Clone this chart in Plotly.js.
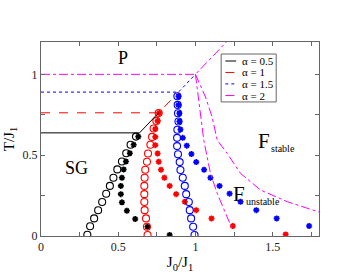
<!DOCTYPE html>
<html>
<head>
<meta charset="utf-8">
<script src="https://cdn.plot.ly/plotly-3.0.1.min.js"></script>
<style>html,body{margin:0;padding:0;background:#fff}#chart{width:359px;height:278px}</style>
</head>
<body>
<div id="chart"></div>
<script>
// Transition lines (J0/J1, T/J1)
var lineA05_x = [0, 0.638, 0.762];
var lineA05_y = [0.638, 0.638, 0.762];
var lineA1_x = [0, 0.762, 0.89];
var lineA1_y = [0.762, 0.762, 0.89];
var lineA15_x = [0, 0.89, 1.0];
var lineA15_y = [0.89, 0.89, 1.0];
var lineA2_x = [0, 1.0, 1.25];
var lineA2_y = [1.0, 1.0, 1.25];

// Magenta dash-dot curves (alpha = 2)
var curve1_x = [1.0, 1.032, 1.054, 1.097, 1.141, 1.195, 1.242];
var curve1_y = [1.0, 0.757, 0.593, 0.387, 0.264, 0.14, 0.037];
var curve2_x = [1.0, 1.065, 1.108, 1.141, 1.206, 1.292, 1.422, 1.595, 1.8];
var curve2_y = [1.0, 0.86, 0.736, 0.593, 0.51, 0.387, 0.284, 0.212, 0.148];

// alpha = 0.5 (black)
var circA05_x = [0.30, 0.318, 0.344, 0.37, 0.396, 0.422, 0.446, 0.469, 0.494, 0.524, 0.552, 0.58, 0.615];
var circA05_y = [0.008, 0.06, 0.109, 0.159, 0.21, 0.261, 0.31, 0.36, 0.412, 0.461, 0.512, 0.564, 0.615];
var starA05_x = [0.63, 0.6, 0.575, 0.55, 0.535, 0.524, 0.517, 0.517, 0.524, 0.556, 0.61, 0.69, 0.833];
var starA05_y = [0.615, 0.564, 0.512, 0.461, 0.412, 0.36, 0.31, 0.259, 0.208, 0.156, 0.105, 0.057, 0.006];

// alpha = 1 (red)
var circA1_x = [0.762, 0.747, 0.729, 0.719, 0.708, 0.693, 0.686, 0.675, 0.671, 0.669, 0.669, 0.669, 0.671, 0.68, 0.686, 0.69];
var circA1_y = [0.761, 0.712, 0.665, 0.613, 0.564, 0.51, 0.459, 0.41, 0.36, 0.31, 0.259, 0.21, 0.16, 0.109, 0.057, 0.006];
var starA1_x = [0.765, 0.755, 0.74, 0.74, 0.74, 0.755, 0.762, 0.777, 0.799, 0.833, 0.875, 0.931, 1.005, 1.104, 1.242, 1.584];
var starA1_y = [0.761, 0.712, 0.662, 0.613, 0.562, 0.51, 0.459, 0.41, 0.36, 0.31, 0.259, 0.212, 0.16, 0.109, 0.062, 0.01];

// alpha = 1.5 (blue)
var circA15_x = [0.883, 0.885, 0.887, 0.89, 0.883, 0.881, 0.881, 0.887, 0.898, 0.903, 0.918, 0.931, 0.94, 0.957, 0.963, 0.972, 0.985, 0.994];
var circA15_y = [0.864, 0.811, 0.759, 0.708, 0.657, 0.607, 0.556, 0.506, 0.457, 0.408, 0.36, 0.31, 0.259, 0.21, 0.16, 0.109, 0.057, 0.006];
var starA15_x = [0.89, 0.89, 0.896, 0.896, 0.903, 0.918, 0.944, 0.974, 1.005, 1.056, 1.097, 1.156, 1.221, 1.292, 1.394, 1.526, 1.736];
var starA15_y = [0.864, 0.811, 0.759, 0.708, 0.659, 0.607, 0.559, 0.507, 0.457, 0.41, 0.36, 0.31, 0.262, 0.212, 0.16, 0.109, 0.062];

var legendNames = ['\u03b1 = 0.5', '\u03b1 = 1', '\u03b1 = 1.5', '\u03b1 = 2'];
var xTickVals = [0, 0.25, 0.5, 0.75, 1, 1.25, 1.5, 1.75];
var xTickText = ['0', '', '0.5', '', '1', '', '1.5', ''];
var yTickVals = [0, 0.25, 0.5, 0.75, 1];
var yTickText = ['0', '', '0.5', '', '1'];

var C_BLACK = '#000000', C_RED = '#ff0000', C_BLUE = '#0000ff', C_MAG = '#ff00ff';
var legendColors = [C_BLACK, C_RED, C_BLUE, C_MAG];
var legendDashes = ['solid', 'dash', 'dot', 'dashdot'];

function lineTrace(x, y, color, dash) {
  return {x: x, y: y, type: 'scatter', mode: 'lines', showlegend: false,
          line: {color: color, width: 1, dash: dash}, hoverinfo: 'skip'};
}
function circTrace(x, y, color) {
  return {x: x, y: y, type: 'scatter', mode: 'markers', showlegend: false,
          marker: {symbol: 'circle-open', size: 7, color: color, line: {width: 1.1, color: color}}};
}
function starTrace(x, y, color) {
  return {x: x, y: y, type: 'scatter', mode: 'markers', showlegend: false,
          marker: {symbol: 'asterisk-open', size: 5, color: color, line: {width: 1.6, color: color}}};
}

var traces = [
  circTrace(circA05_x, circA05_y, C_BLACK),
  starTrace(starA05_x, starA05_y, C_BLACK),
  circTrace(circA1_x, circA1_y, C_RED),
  starTrace(starA1_x, starA1_y, C_RED),
  circTrace(circA15_x, circA15_y, C_BLUE),
  starTrace(starA15_x, starA15_y, C_BLUE),
  lineTrace(lineA05_x, lineA05_y, C_BLACK, 'solid'),
  lineTrace(lineA1_x, lineA1_y, C_RED, 'dash'),
  lineTrace(lineA15_x, lineA15_y, C_BLUE, 'dot'),
  lineTrace(lineA2_x, lineA2_y, C_MAG, 'dashdot'),
  lineTrace(curve1_x, curve1_y, C_MAG, 'dashdot'),
  lineTrace(curve2_x, curve2_y, C_MAG, 'dashdot')
];

var serif = '"Liberation Serif", "Times New Roman", serif';
var axisCommon = {
  showgrid: false, zeroline: false, showline: true, linecolor: '#666', linewidth: 1,
  mirror: 'allticks', ticks: 'inside', ticklen: 4, tickcolor: '#666',
  tickfont: {family: serif, size: 12, color: '#222'}
};

// Manual legend (paper coordinates)
var legBox = {x0: 0.648, x1: 0.846, y0: 0.691, y1: 0.938};
var legRows = [0.902, 0.843, 0.784, 0.724];
var shapes = [{type: 'rect', xref: 'paper', yref: 'paper', x0: legBox.x0, x1: legBox.x1, y0: legBox.y0, y1: legBox.y1,
               line: {color: '#666', width: 1}, fillcolor: '#fff', layer: 'above'}];
var annotations = [
  {x: 0.53, y: 1.1, xref: 'x', yref: 'y', text: 'P', showarrow: false, font: {family: serif, size: 18, color: '#000'}},
  {x: 0.231, y: 0.42, xref: 'x', yref: 'y', text: 'SG', showarrow: false, font: {family: serif, size: 18, color: '#000'}},
  {x: 1.446, y: 0.59, xref: 'x', yref: 'y', text: 'F', showarrow: false, font: {family: serif, size: 21, color: '#000'}},
  {x: 1.476, y: 0.54, xref: 'x', yref: 'y', text: 'stable', showarrow: false, xanchor: 'left', font: {family: serif, size: 10, color: '#000'}},
  {x: 1.283, y: 0.26, xref: 'x', yref: 'y', text: 'F', showarrow: false, font: {family: serif, size: 21, color: '#000'}},
  {x: 1.313, y: 0.213, xref: 'x', yref: 'y', text: 'unstable', showarrow: false, xanchor: 'left', font: {family: serif, size: 10, color: '#000'}}
];
for (var i = 0; i < legendNames.length; i++) {
  shapes.push({type: 'line', xref: 'paper', yref: 'paper', x0: 0.663, x1: 0.702, y0: legRows[i], y1: legRows[i],
               line: {color: legendColors[i], width: 1, dash: legendDashes[i]}, layer: 'above'});
  annotations.push({x: 0.72, y: legRows[i], xref: 'paper', yref: 'paper', xanchor: 'left', yanchor: 'middle',
                    text: legendNames[i], showarrow: false, borderpad: 0, height: 10,
                    font: {family: serif, size: 11, color: '#000'}});
}

var layout = {
  width: 359, height: 278,
  margin: {l: 41, r: 40, t: 42, b: 42},
  paper_bgcolor: '#fff', plot_bgcolor: '#fff',
  showlegend: false,
  xaxis: Object.assign({}, axisCommon, {
    range: [0, 1.8], tickmode: 'array', tickvals: xTickVals, ticktext: xTickText,
    title: {text: 'J<sub>0</sub>/J<sub>1</sub>', font: {family: serif, size: 15, color: '#000'}, standoff: 0}
  }),
  yaxis: Object.assign({}, axisCommon, {
    range: [0, 1.2], tickmode: 'array', tickvals: yTickVals, ticktext: yTickText,
    title: {text: 'T/J<sub>1</sub>', font: {family: serif, size: 15, color: '#000'}, standoff: 4}
  }),
  shapes: shapes,
  annotations: annotations
};

Plotly.newPlot('chart', traces, layout, {staticPlot: true, displayModeBar: false});
</script>
</body>
</html>
